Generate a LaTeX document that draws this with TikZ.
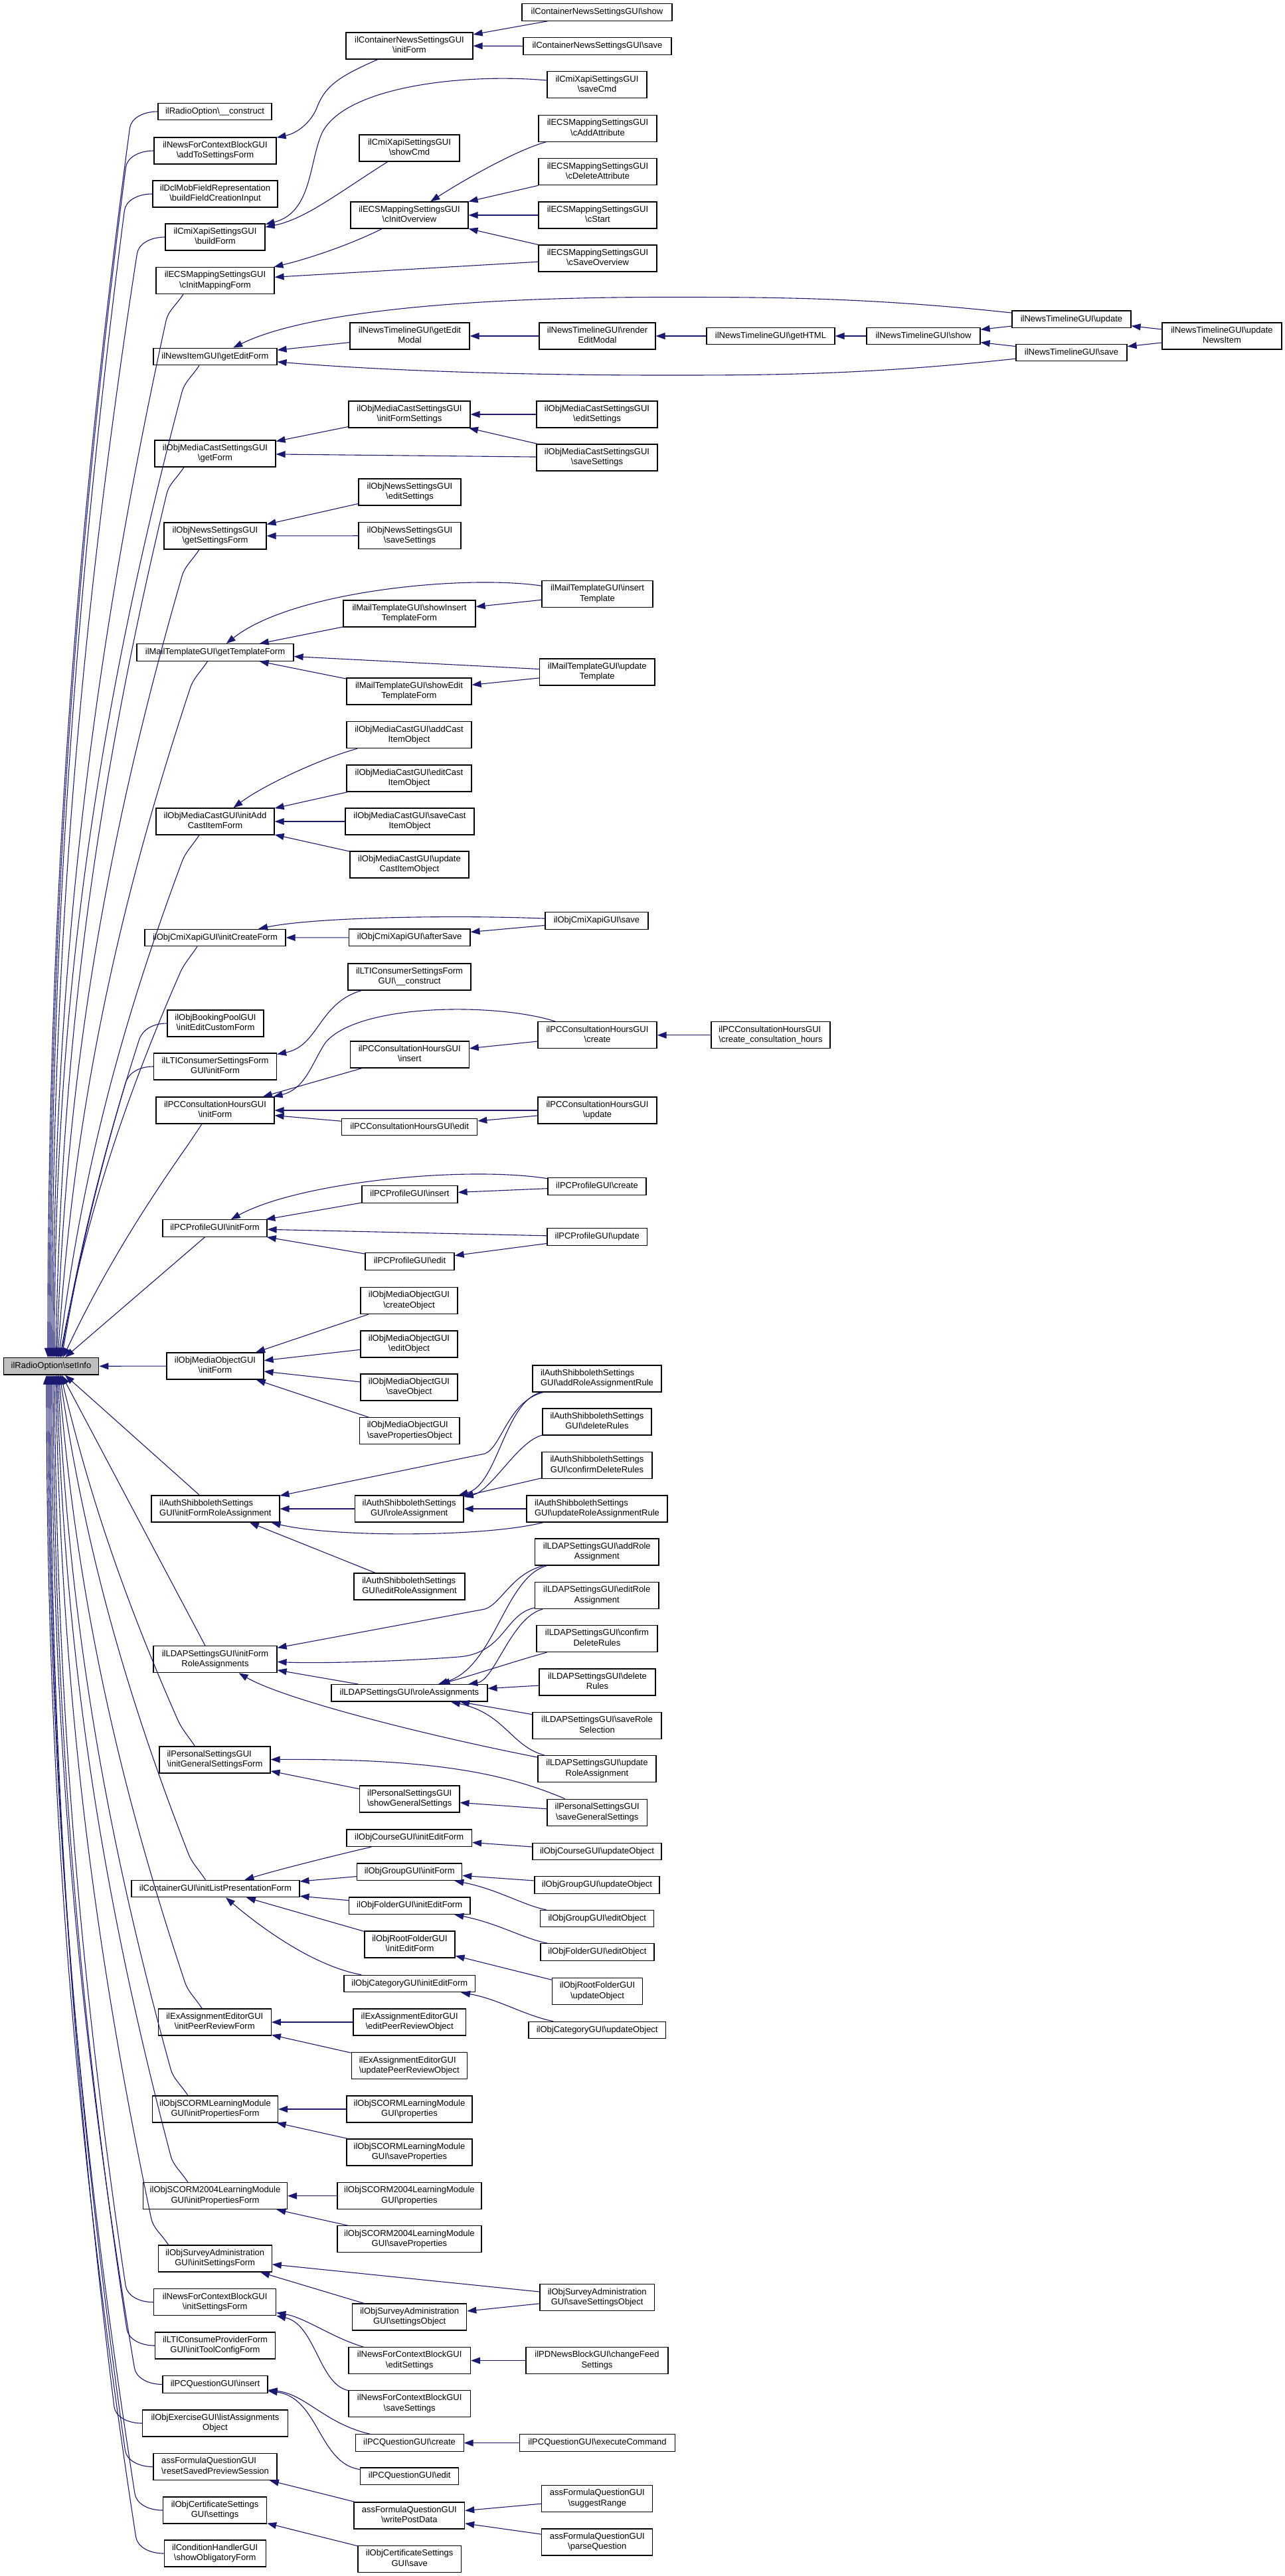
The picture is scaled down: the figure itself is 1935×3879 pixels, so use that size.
\documentclass[tikz,border=0pt]{standalone}
\usepackage{fontspec}
\setmainfont{Liberation Sans}
\usetikzlibrary{arrows.meta,calc}
\definecolor{edgecol}{HTML}{191970}
\definecolor{rootfill}{HTML}{BFBFBF}
\newcommand\bsl{\textbackslash}
\newcommand\twoline[2]{\begin{tabular}{@{}l@{}}#1\\\multicolumn{1}{@{}c@{}}{#2}\end{tabular}}
\newcommand\fanedge[5]{%
\draw[cedge] let \p1=#1, \p2=($#1+#3$), \p3=#4 in
 (\p1) .. controls ($(\p1)+#2$) and ({(\x2)-15*(1+#5)*(((\x3)-(\x2))/abs((\y3)-(\y2)))},{(\y2)-15*(((\y3)-(\y2))/abs((\y3)-(\y2)))}) .. (\p2)
 .. controls ({(\x2)+0.35*(1+#5)*((\x3)-(\x2))},{(\y2)+0.35*((\y3)-(\y2))}) and ({(\x3)-0.35*(1-#5)*((\x3)-(\x2))},{(\y3)-0.35*((\y3)-(\y2))}) .. (\p3);}
\begin{document}
\begin{tikzpicture}[x=1pt,y=-1pt,
  dbox/.style={draw=black,line width=1.2pt,fill=white,inner sep=0pt,font=\fontsize{13pt}{15.5pt}\selectfont,minimum height=25.5pt,text height=9.5pt,text depth=3pt},
  dbox2/.style={draw=black,line width=1.2pt,fill=white,inner sep=0pt,font=\fontsize{13pt}{15.5pt}\selectfont,minimum height=40pt},
  wd/.style={minimum width=#1pt},
  cedge/.style={draw=edgecol,line width=1.1pt,-{Triangle[length=14pt,width=10pt]}}]
\fill[white] (0,0) rectangle (1935,3879);
\useasboundingbox (0,0) rectangle (1935,3879);

% ---------- root ----------
\node[dbox,fill=rootfill,wd=143.6] (root) at (77,2057.3) {ilRadioOption\bsl setInfo};

% ---------- column 1 ----------
\node[dbox,wd=171] (RO) at (323.5,168) {ilRadioOption\bsl\_\_construct};
\node[dbox2,wd=184] (NFCadd) at (324,227) {\twoline{ilNewsForContextBlockGUI}{\bsl addToSettingsForm}};
\node[dbox2,wd=188] (Dcl) at (324,292) {\twoline{ilDclMobFieldRepresentation}{\bsl buildFieldCreationInput}};
\node[dbox2,wd=150] (CmiBuild) at (324,357) {\twoline{ilCmiXapiSettingsGUI}{\bsl buildForm}};
\node[dbox2,wd=178] (ECSmap) at (324,422.5) {\twoline{ilECSMappingSettingsGUI}{\bsl cInitMappingForm}};
\node[dbox,wd=186] (NIedit) at (324,537) {ilNewsItemGUI\bsl getEditForm};
\node[dbox2,wd=182] (MCSget) at (324,683) {\twoline{ilObjMediaCastSettingsGUI}{\bsl getForm}};
\node[dbox2,wd=154] (ONSget) at (324,807) {\twoline{ilObjNewsSettingsGUI}{\bsl getSettingsForm}};
\node[dbox,wd=236] (MTget) at (324,982.5) {ilMailTemplateGUI\bsl getTemplateForm};
\node[dbox2,wd=178] (MCinit) at (324,1237) {\twoline{ilObjMediaCastGUI\bsl initAdd}{CastItemForm}};
\node[dbox,wd=212] (OCXinit) at (324,1412) {ilObjCmiXapiGUI\bsl initCreateForm};
\node[dbox2,wd=145] (OBP) at (324.5,1541) {\twoline{ilObjBookingPoolGUI}{\bsl initEditCustomForm}};
\node[dbox2,wd=185] (LTIinit) at (324,1606) {\twoline{ilLTIConsumerSettingsForm}{GUI\bsl initForm}};
\node[dbox2,wd=178] (PCHinit) at (324,1672) {\twoline{ilPCConsultationHoursGUI}{\bsl initForm}};
\node[dbox,wd=157] (PCPinit) at (323.5,1849.5) {ilPCProfileGUI\bsl initForm};
\node[dbox2,wd=146] (OMOinit) at (324,2057) {\twoline{ilObjMediaObjectGUI}{\bsl initForm}};
\node[dbox2,wd=193] (ASSinit) at (324.4,2272) {\twoline{ilAuthShibbolethSettings}{GUI\bsl initFormRoleAssignment}};
\node[dbox2,wd=186] (LDAPinit) at (324,2498.7) {\twoline{ilLDAPSettingsGUI\bsl initForm}{RoleAssignments}};
\node[dbox2,wd=167] (PSinit) at (323.5,2650) {\twoline{ilPersonalSettingsGUI}{\bsl initGeneralSettingsForm}};
\node[dbox,wd=253] (Cont) at (324.4,2844) {ilContainerGUI\bsl initListPresentationForm};
\node[dbox2,wd=170] (ExA) at (323.3,3045) {\twoline{ilExAssignmentEditorGUI}{\bsl initPeerReviewForm}};
\node[dbox2,wd=189] (SCORM) at (324,3176) {\twoline{ilObjSCORMLearningModule}{GUI\bsl initPropertiesForm}};
\node[dbox2,wd=217] (S2004) at (324,3306.6) {\twoline{ilObjSCORM2004LearningModule}{GUI\bsl initPropertiesForm}};
\node[dbox2,wd=171] (Svy) at (323.7,3401) {\twoline{ilObjSurveyAdministration}{GUI\bsl initSettingsForm}};
\node[dbox2,wd=184] (NFCinit) at (323.7,3466.7) {\twoline{ilNewsForContextBlockGUI}{\bsl initSettingsForm}};
\node[dbox2,wd=181] (LTICP) at (324,3532) {\twoline{ilLTIConsumeProviderForm}{GUI\bsl initToolConfigForm}};
\node[dbox,wd=158] (PCQins) at (324,3590.4) {ilPCQuestionGUI\bsl insert};
\node[dbox2,wd=219] (ObjEx) at (324,3649) {\twoline{ilObjExerciseGUI\bsl listAssignments}{Object}};
\node[dbox2,wd=186] (AFQreset) at (324,3714.5) {\twoline{assFormulaQuestionGUI}{\bsl resetSavedPreviewSession}};
\node[dbox2,wd=156] (CertSet) at (323.6,3780) {\twoline{ilObjCertificateSettings}{GUI\bsl settings}};
\node[dbox2,wd=153] (CondH) at (323.7,3845) {\twoline{ilConditionHandlerGUI}{\bsl showObligatoryForm}};

% ---------- column 2 ----------
\node[dbox2,wd=191] (CNSinit) at (616.5,69) {\twoline{ilContainerNewsSettingsGUI}{\bsl initForm}};
\node[dbox2,wd=151] (CmiShow) at (616.5,223) {\twoline{ilCmiXapiSettingsGUI}{\bsl showCmd}};
\node[dbox2,wd=177] (ECSover) at (616.5,324) {\twoline{ilECSMappingSettingsGUI}{\bsl cInitOverview}};
\node[dbox2,wd=180] (NTmodal) at (617,506) {\twoline{ilNewsTimelineGUI\bsl getEdit}{Modal}};
\node[dbox2,wd=183] (MCSinitFS) at (616.5,624) {\twoline{ilObjMediaCastSettingsGUI}{\bsl initFormSettings}};
\node[dbox2,wd=154] (ONSedit) at (617,741) {\twoline{ilObjNewsSettingsGUI}{\bsl editSettings}};
\node[dbox2,wd=154] (ONSsave) at (617,806.7) {\twoline{ilObjNewsSettingsGUI}{\bsl saveSettings}};
\node[dbox2,wd=199] (MTshowIns) at (616.5,924) {\twoline{ilMailTemplateGUI\bsl showInsert}{TemplateForm}};
\node[dbox2,wd=188] (MTshowEdit) at (616,1041) {\twoline{ilMailTemplateGUI\bsl showEdit}{TemplateForm}};
\node[dbox2,wd=188] (MCadd) at (616,1106.7) {\twoline{ilObjMediaCastGUI\bsl addCast}{ItemObject}};
\node[dbox2,wd=188] (MCedit) at (616,1172) {\twoline{ilObjMediaCastGUI\bsl editCast}{ItemObject}};
\node[dbox2,wd=194] (MCsave) at (617,1237) {\twoline{ilObjMediaCastGUI\bsl saveCast}{ItemObject}};
\node[dbox2,wd=179] (MCupd) at (616.5,1302) {\twoline{ilObjMediaCastGUI\bsl update}{CastItemObject}};
\node[dbox,wd=182.5] (OCXafter) at (616.7,1411.7) {ilObjCmiXapiGUI\bsl afterSave};
\node[dbox2,wd=185] (LTIcons) at (616.5,1471) {\twoline{ilLTIConsumerSettingsForm}{GUI\bsl\_\_construct}};
\node[dbox2,wd=179] (PCHins) at (616.7,1588) {\twoline{ilPCConsultationHoursGUI}{\bsl insert}};
\node[dbox,wd=204] (PCHedit) at (616.7,1697) {ilPCConsultationHoursGUI\bsl edit};
\node[dbox,wd=144] (PCPins) at (617,1798.5) {ilPCProfileGUI\bsl insert};
\node[dbox,wd=134] (PCPedit) at (617,1899.5) {ilPCProfileGUI\bsl edit};
\node[dbox2,wd=146] (OMOcreate) at (616,1958.5) {\twoline{ilObjMediaObjectGUI}{\bsl createObject}};
\node[dbox2,wd=146] (OMOedit) at (616,2024) {\twoline{ilObjMediaObjectGUI}{\bsl editObject}};
\node[dbox2,wd=146] (OMOsave) at (616,2089) {\twoline{ilObjMediaObjectGUI}{\bsl saveObject}};
\node[dbox2,wd=150.5] (OMOsaveProp) at (616.7,2154.6) {\twoline{ilObjMediaObjectGUI}{\bsl savePropertiesObject}};
\node[dbox2,wd=163.6] (ASSrole) at (616.2,2272) {\twoline{ilAuthShibbolethSettings}{GUI\bsl roleAssignment}};
\node[dbox2,wd=167] (ASSeditRA) at (616.5,2389) {\twoline{ilAuthShibbolethSettings}{GUI\bsl editRoleAssignment}};
\node[dbox,wd=235] (LDAProle) at (616.4,2549.3) {ilLDAPSettingsGUI\bsl roleAssignments};
\node[dbox2,wd=150.5] (PSshow) at (616.7,2709) {\twoline{ilPersonalSettingsGUI}{\bsl showGeneralSettings}};
\node[dbox,wd=188.5] (CrsInit) at (616.2,2767.7) {ilObjCourseGUI\bsl initEditForm};
\node[dbox,wd=158] (GrpInit) at (616.7,2818.7) {ilObjGroupGUI\bsl initForm};
\node[dbox,wd=182.5] (FldInit) at (616.7,2869.7) {ilObjFolderGUI\bsl initEditForm};
\node[dbox2,wd=136] (RootInit) at (617,2928) {\twoline{ilObjRootFolderGUI}{\bsl initEditForm}};
\node[dbox,wd=197.6] (CatInit) at (616.8,2987) {ilObjCategoryGUI\bsl initEditForm};
\node[dbox2,wd=169.5] (ExAedit) at (616.7,3045) {\twoline{ilExAssignmentEditorGUI}{\bsl editPeerReviewObject}};
\node[dbox2,wd=174] (ExAupd) at (616.3,3110.8) {\twoline{ilExAssignmentEditorGUI}{\bsl updatePeerReviewObject}};
\node[dbox2,wd=189] (SCORMprop) at (616.5,3176) {\twoline{ilObjSCORMLearningModule}{GUI\bsl properties}};
\node[dbox2,wd=189] (SCORMsave) at (616.5,3241) {\twoline{ilObjSCORMLearningModule}{GUI\bsl saveProperties}};
\node[dbox2,wd=217] (S2004prop) at (616.4,3306.6) {\twoline{ilObjSCORM2004LearningModule}{GUI\bsl properties}};
\node[dbox2,wd=217] (S2004save) at (616.4,3371.8) {\twoline{ilObjSCORM2004LearningModule}{GUI\bsl saveProperties}};
\node[dbox2,wd=172] (SvySettings) at (616.7,3489) {\twoline{ilObjSurveyAdministration}{GUI\bsl settingsObject}};
\node[dbox2,wd=183.5] (NFCedit) at (616.7,3554.6) {\twoline{ilNewsForContextBlockGUI}{\bsl editSettings}};
\node[dbox2,wd=183.5] (NFCsave) at (616.7,3619.6) {\twoline{ilNewsForContextBlockGUI}{\bsl saveSettings}};
\node[dbox,wd=163] (PCQcreate) at (616.6,3678.6) {ilPCQuestionGUI\bsl create};
\node[dbox,wd=148] (PCQedit) at (616.7,3728.7) {ilPCQuestionGUI\bsl edit};
\node[dbox2,wd=166.6] (AFQwrite) at (616.3,3788) {\twoline{assFormulaQuestionGUI}{\bsl writePostData}};
\node[dbox2,wd=155.5] (CertSave) at (616.7,3853.3) {\twoline{ilObjCertificateSettings}{GUI\bsl save}};

% ---------- column 3 ----------
\node[dbox,wd=226] (CNSshow) at (899,18.5) {ilContainerNewsSettingsGUI\bsl show};
\node[dbox,wd=223] (CNSsave) at (899.5,69.5) {ilContainerNewsSettingsGUI\bsl save};
\node[dbox2,wd=150] (CmiSave) at (899,127.7) {\twoline{ilCmiXapiSettingsGUI}{\bsl saveCmd}};
\node[dbox2,wd=178] (ECSadd) at (900,193.4) {\twoline{ilECSMappingSettingsGUI}{\bsl cAddAttribute}};
\node[dbox2,wd=178] (ECSdel) at (900,258.7) {\twoline{ilECSMappingSettingsGUI}{\bsl cDeleteAttribute}};
\node[dbox2,wd=178] (ECSstart) at (900,324) {\twoline{ilECSMappingSettingsGUI}{\bsl cStart}};
\node[dbox2,wd=178] (ECSsave) at (900,389) {\twoline{ilECSMappingSettingsGUI}{\bsl cSaveOverview}};
\node[dbox2,wd=175] (NTrender) at (899.5,506) {\twoline{ilNewsTimelineGUI\bsl render}{EditModal}};
\node[dbox2,wd=182] (MCSedit) at (899,624) {\twoline{ilObjMediaCastSettingsGUI}{\bsl editSettings}};
\node[dbox2,wd=182] (MCSsave) at (899,689) {\twoline{ilObjMediaCastSettingsGUI}{\bsl saveSettings}};
\node[dbox2,wd=167] (MTinsert) at (899.5,894.6) {\twoline{ilMailTemplateGUI\bsl insert}{Template}};
\node[dbox2,wd=173.5] (MTupdate) at (899.3,1012) {\twoline{ilMailTemplateGUI\bsl update}{Template}};
\node[dbox,wd=155] (OCXsave) at (898.5,1386.4) {ilObjCmiXapiGUI\bsl save};
\node[dbox2,wd=179] (PCHcreate) at (899.5,1558.7) {\twoline{ilPCConsultationHoursGUI}{\bsl create}};
\node[dbox2,wd=179] (PCHupdate) at (899.5,1672) {\twoline{ilPCConsultationHoursGUI}{\bsl update}};
\node[dbox,wd=148] (PCPcreate) at (899,1786.5) {ilPCProfileGUI\bsl create};
\node[dbox,wd=150.5] (PCPupdate) at (899.2,1862.5) {ilPCProfileGUI\bsl update};
\node[dbox2,wd=194] (ASSadd) at (899,2076) {\twoline{ilAuthShibbolethSettings}{GUI\bsl addRoleAssignmentRule}};
\node[dbox2,wd=164] (ASSdel) at (899,2141) {\twoline{ilAuthShibbolethSettings}{GUI\bsl deleteRules}};
\node[dbox2,wd=166] (ASSconf) at (899,2206.3) {\twoline{ilAuthShibbolethSettings}{GUI\bsl confirmDeleteRules}};
\node[dbox2,wd=212] (ASSupd) at (899,2272) {\twoline{ilAuthShibbolethSettings}{GUI\bsl updateRoleAssignmentRule}};
\node[dbox2,wd=186.4] (LDAPadd) at (898.8,2337) {\twoline{ilLDAPSettingsGUI\bsl addRole}{Assignment}};
\node[dbox2,wd=186.4] (LDAPedit) at (898.8,2402.5) {\twoline{ilLDAPSettingsGUI\bsl editRole}{Assignment}};
\node[dbox2,wd=182] (LDAPconf) at (899,2467.6) {\twoline{ilLDAPSettingsGUI\bsl confirm}{DeleteRules}};
\node[dbox2,wd=175] (LDAPdel) at (899.5,2533) {\twoline{ilLDAPSettingsGUI\bsl delete}{Rules}};
\node[dbox2,wd=194] (LDAPsaveSel) at (899,2598.6) {\twoline{ilLDAPSettingsGUI\bsl saveRole}{Selection}};
\node[dbox2,wd=178] (LDAPupd) at (899,2663.6) {\twoline{ilLDAPSettingsGUI\bsl update}{RoleAssignment}};
\node[dbox2,wd=150.5] (PSsave) at (899.2,2729.2) {\twoline{ilPersonalSettingsGUI}{\bsl saveGeneralSettings}};
\node[dbox,wd=194] (CrsUpd) at (899,2788) {ilObjCourseGUI\bsl updateObject};
\node[dbox,wd=188] (GrpUpd) at (899,2838.6) {ilObjGroupGUI\bsl updateObject};
\node[dbox,wd=171] (GrpEdit) at (899.2,2889) {ilObjGroupGUI\bsl editObject};
\node[dbox,wd=171] (FldEdit) at (899.5,2939.5) {ilObjFolderGUI\bsl editObject};
\node[dbox2,wd=135.7] (RootUpd) at (899.5,2998.4) {\twoline{ilObjRootFolderGUI}{\bsl updateObject}};
\node[dbox,wd=206.5] (CatUpd) at (899.2,3057) {ilObjCategoryGUI\bsl updateObject};
\node[dbox2,wd=172.3] (SvySave) at (899.2,3459.8) {\twoline{ilObjSurveyAdministration}{GUI\bsl saveSettingsObject}};
\node[dbox2,wd=214] (PDNews) at (899,3554.6) {\twoline{ilPDNewsBlockGUI\bsl changeFeed}{Settings}};
\node[dbox,wd=233.6] (PCQexec) at (899.5,3678.6) {ilPCQuestionGUI\bsl executeCommand};
\node[dbox2,wd=167] (AFQsuggest) at (899.3,3762.6) {\twoline{assFormulaQuestionGUI}{\bsl suggestRange}};
\node[dbox2,wd=167] (AFQparse) at (899.3,3828) {\twoline{assFormulaQuestionGUI}{\bsl parseQuestion}};

% ---------- columns 4-7 ----------
\node[dbox2,wd=179] (PCHcch) at (1160.5,1558.7) {\twoline{ilPCConsultationHoursGUI}{\bsl create\_consultation\_hours}};
\node[dbox,wd=193] (NTgetHTML) at (1160.5,506) {ilNewsTimelineGUI\bsl getHTML};
\node[dbox,wd=171] (NTshow) at (1390.5,506) {ilNewsTimelineGUI\bsl show};
\node[dbox,wd=179] (NTupdate) at (1613.5,480.8) {ilNewsTimelineGUI\bsl update};
\node[dbox,wd=167] (NTsave) at (1613.5,531) {ilNewsTimelineGUI\bsl save};
\node[dbox2,wd=180] (NTupdNI) at (1840,506) {\twoline{ilNewsTimelineGUI\bsl update}{NewsItem}};

% ---------- fan into root (from above) ----------
\fanedge{(RO.west)}{(-22,0)}{(-42,25)}{($(root.north)+(-5,0)$)}{1}
\fanedge{(NFCadd.west)}{(-22,0)}{(-42,25)}{($(root.north)+(-3,0)$)}{1}
\fanedge{(Dcl.west)}{(-22,0)}{(-42,25)}{($(root.north)+(-1,0)$)}{1}
\fanedge{(CmiBuild.west)}{(-22,0)}{(-42,25)}{($(root.north)+(1,0)$)}{1}
\fanedge{($(ECSmap.south)+(-48,0)$)}{(-12,18)}{(-26,40)}{($(root.north)+(3,0)$)}{1}
\fanedge{($(NIedit.south)+(-24,0)$)}{(-12,18)}{(-26,40)}{($(root.north)+(5,0)$)}{1}
\fanedge{($(MCSget.south)+(-47,0)$)}{(-12,18)}{(-26,40)}{($(root.north)+(7,0)$)}{0.87}
\fanedge{($(ONSget.south)+(-24,0)$)}{(-12,18)}{(-26,40)}{($(root.north)+(8.5,0)$)}{0.8}
\fanedge{($(MTget.south)+(-11.5,0)$)}{(-12,18)}{(-26,40)}{($(root.north)+(10,0)$)}{0.67}
\fanedge{($(MCinit.south)+(-24,0)$)}{(-12,18)}{(-26,40)}{($(root.north)+(11.5,0)$)}{0.5}
\fanedge{($(OCXinit.south)+(-27,0)$)}{(-12,18)}{(-26,40)}{($(root.north)+(13,0)$)}{0.4}
\fanedge{(OBP.west)}{(-22,0)}{(-42,25)}{($(root.north)+(14.5,0)$)}{0.3}
\fanedge{(LTIinit.west)}{(-22,0)}{(-42,25)}{($(root.north)+(16,0)$)}{0.27}
\fanedge{($(PCHinit.south)+(-20,0)$)}{(-10,15)}{(-20,30)}{($(root.north)+(18,0)$)}{0.2}
\draw[cedge] ($(PCPinit.south)+(-15,0)$) -- ($(root.north)+(21,0)$);
\draw[cedge] (OMOinit) -- (root);

% ---------- fan into root (from below) ----------
\draw[cedge] ($(ASSinit.north)+(-24,0)$) -- ($(root.south)+(21,0)$);
\draw[cedge] ($(LDAPinit.north)+(-15,0)$) -- ($(root.south)+(16,0)$);
\fanedge{($(PSinit.north)+(-30,0)$)}{(-12,-18)}{(-26,-40)}{($(root.south)+(14.5,0)$)}{0.3}
\fanedge{($(Cont.north)+(-15,0)$)}{(-12,-18)}{(-26,-40)}{($(root.south)+(13,0)$)}{0.45}
\fanedge{($(ExA.north)+(-19,0)$)}{(-12,-18)}{(-26,-40)}{($(root.south)+(11.5,0)$)}{0.6}
\fanedge{($(SCORM.north)+(-41,0)$)}{(-12,-18)}{(-26,-40)}{($(root.south)+(10,0)$)}{0.7}
\fanedge{($(S2004.north)+(-41,0)$)}{(-12,-18)}{(-26,-40)}{($(root.south)+(8.5,0)$)}{0.8}
\fanedge{($(Svy.north)+(-70,0)$)}{(-12,-18)}{(-26,-40)}{($(root.south)+(7,0)$)}{0.85}
\fanedge{(NFCinit.west)}{(-22,0)}{(-42,-25)}{($(root.south)+(5,0)$)}{0.9}
\fanedge{(LTICP.west)}{(-22,0)}{(-42,-25)}{($(root.south)+(3,0)$)}{0.95}
\fanedge{(PCQins.west)}{(-22,0)}{(-42,-25)}{($(root.south)+(1,0)$)}{1}
\fanedge{(ObjEx.west)}{(-22,0)}{(-42,-25)}{($(root.south)+(-1,0)$)}{1}
\fanedge{(AFQreset.west)}{(-22,0)}{(-42,-25)}{($(root.south)+(-3,0)$)}{1}
\fanedge{(CertSet.west)}{(-22,0)}{(-42,-25)}{($(root.south)+(-5,0)$)}{1}
\fanedge{(CondH.west)}{(-22,0)}{(-42,-25)}{($(root.south)+(-7,0)$)}{1}

% ---------- other edges ----------
\draw[cedge] (CNSshow) -- (CNSinit);
\draw[cedge] (CNSsave) -- (CNSinit);
\draw[cedge] (CNSinit) .. controls (510,115) and (490,130) .. (478,160) .. controls (470,182) and (450,200) .. (NFCadd);
\draw[cedge] (CmiSave) .. controls (700,110) and (520,130) .. (485,200) .. controls (465,245) and (470,320) .. (CmiBuild);
\draw[cedge] (CmiShow) .. controls (510,290) and (460,330) .. (CmiBuild);
\draw[cedge] (ECSover) .. controls (520,372) and (455,392) .. (ECSmap);
\draw[cedge] (ECSsave) -- (ECSmap);
\draw[cedge] (ECSadd) .. controls (780,225) and (700,270) .. (ECSover);
\draw[cedge] (ECSdel) -- (ECSover);
\draw[cedge] (ECSstart) -- (ECSover);
\draw[cedge] (ECSsave) -- (ECSover);

\draw[cedge] (NTmodal) -- (NIedit);
\draw[cedge] (NTrender) -- (NTmodal);
\draw[cedge] (NTgetHTML) -- (NTrender);
\draw[cedge] (NTshow) -- (NTgetHTML);
\draw[cedge] (NTupdate) -- (NTshow);
\draw[cedge] (NTsave) -- (NTshow);
\draw[cedge] (NTupdNI) -- (NTupdate);
\draw[cedge] (NTupdNI) -- (NTsave);
\draw[cedge] (NTupdate) .. controls (1300,447) and (1150,447.5) .. (1000,447.5) .. controls (700,447.5) and (460,470) .. (NIedit);
\draw[cedge] (NTsave) .. controls (1300,565) and (1150,565) .. (1000,565) .. controls (750,565) and (550,556) .. (NIedit);

\draw[cedge] (MCSinitFS) -- (MCSget);
\draw[cedge] (MCSedit) -- (MCSinitFS);
\draw[cedge] (MCSsave) -- (MCSinitFS);
\draw[cedge] (MCSsave) -- (MCSget);
\draw[cedge] (ONSedit) -- (ONSget);
\draw[cedge] (ONSsave) -- (ONSget);

\draw[cedge] (MTinsert) .. controls (700,865) and (440,890) .. (MTget);
\draw[cedge] (MTinsert) -- (MTshowIns);
\draw[cedge] (MTshowIns) -- (MTget);
\draw[cedge] (MTupdate) -- (MTget);
\draw[cedge] (MTupdate) -- (MTshowEdit);
\draw[cedge] (MTshowEdit) -- (MTget);

\draw[cedge] (MCadd) .. controls (490,1140) and (400,1180) .. (MCinit);
\draw[cedge] (MCedit) -- (MCinit);
\draw[cedge] (MCsave) -- (MCinit);
\draw[cedge] (MCupd) -- (MCinit);

\draw[cedge] (OCXsave) .. controls (700,1378) and (480,1380) .. (OCXinit);
\draw[cedge] (OCXafter) -- (OCXinit);
\draw[cedge] (OCXsave) -- (OCXafter);

\draw[cedge] (LTIcons) .. controls (480,1510) and (480,1575) .. (LTIinit);

\draw[cedge] (PCHcreate) .. controls (750,1510) and (540,1510) .. (490,1570) .. controls (470,1600) and (460,1640) .. (PCHinit);
\draw[cedge] (PCHcreate) -- (PCHins);
\draw[cedge] (PCHins) -- (PCHinit);
\draw[cedge] (PCHupdate) -- (PCHinit);
\draw[cedge] (PCHupdate) -- (PCHedit);
\draw[cedge] (PCHedit) -- (PCHinit);
\draw[cedge] (PCHcch) -- (PCHcreate);

\draw[cedge] (PCPcreate) .. controls (700,1755) and (450,1780) .. (PCPinit);
\draw[cedge] (PCPcreate) -- (PCPins);
\draw[cedge] (PCPins) -- (PCPinit);
\draw[cedge] (PCPupdate) -- (PCPinit);
\draw[cedge] (PCPupdate) -- (PCPedit);
\draw[cedge] (PCPedit) -- (PCPinit);

\draw[cedge] (OMOcreate) -- (OMOinit);
\draw[cedge] (OMOedit) -- (OMOinit);
\draw[cedge] (OMOsave) -- (OMOinit);
\draw[cedge] (OMOsaveProp) -- (OMOinit);

\draw[cedge] (ASSrole) -- (ASSinit);
\draw[cedge] (ASSupd) -- (ASSrole);
\draw[cedge] (ASSconf) -- (ASSrole);
\draw[cedge] (ASSdel) .. controls (780,2170) and (740,2245) .. (ASSrole);
\draw[cedge] (ASSadd) .. controls (760,2110) and (750,2235) .. (ASSrole);
\draw[cedge] (ASSadd) .. controls (765,2110) and (755,2180) .. (730,2189) -- (ASSinit);
\draw[cedge] (ASSupd) .. controls (730,2315) and (500,2315) .. (ASSinit);
\draw[cedge] (ASSeditRA) -- (ASSinit);

\draw[cedge] (LDAProle) -- (LDAPinit);
\draw[cedge] (LDAPadd) .. controls (770,2370) and (755,2415) .. (730,2423) -- (LDAPinit);
\draw[cedge] (LDAPadd) .. controls (760,2375) and (745,2510) .. (LDAProle);
\draw[cedge] (LDAPedit) .. controls (760,2430) and (760,2490) .. (690,2495) .. controls (600,2502) and (480,2505) .. (LDAPinit);
\draw[cedge] (LDAPedit) .. controls (770,2435) and (745,2530) .. (LDAProle);
\draw[cedge] (LDAPconf) .. controls (780,2500) and (720,2520) .. (LDAProle);
\draw[cedge] (LDAPdel) -- (LDAProle);
\draw[cedge] (LDAPsaveSel) -- (LDAProle);
\draw[cedge] (LDAPupd) .. controls (770,2630) and (760,2580) .. (LDAProle);
\draw[cedge] (LDAPupd) .. controls (650,2615) and (430,2560) .. (LDAPinit);

\draw[cedge] (PSshow) -- (PSinit);
\draw[cedge] (PSsave) .. controls (760,2670) and (650,2648) .. (PSinit);
\draw[cedge] (PSsave) -- (PSshow);

\draw[cedge] (CrsInit) .. controls (500,2795) and (420,2815) .. (Cont);
\draw[cedge] (GrpInit) -- (Cont);
\draw[cedge] (FldInit) -- (Cont);
\draw[cedge] (RootInit) -- (Cont);
\draw[cedge] (CatInit) .. controls (470,2960) and (390,2900) .. (Cont);
\draw[cedge] (CrsUpd) -- (CrsInit);
\draw[cedge] (GrpUpd) -- (GrpInit);
\draw[cedge] (GrpEdit) .. controls (790,2870) and (750,2845) .. (GrpInit);
\draw[cedge] (FldEdit) .. controls (790,2920) and (750,2896) .. (FldInit);
\draw[cedge] (RootUpd) -- (RootInit);
\draw[cedge] (CatUpd) .. controls (790,3035) and (750,3010) .. (CatInit);

\draw[cedge] (ExAedit) -- (ExA);
\draw[cedge] (ExAupd) -- (ExA);
\draw[cedge] (SCORMprop) -- (SCORM);
\draw[cedge] (SCORMsave) -- (SCORM);
\draw[cedge] (S2004prop) -- (S2004);
\draw[cedge] (S2004save) -- (S2004);

\draw[cedge] (SvySave) -- (Svy);
\draw[cedge] (SvySettings) -- (Svy);
\draw[cedge] (SvySave) -- (SvySettings);

\draw[cedge] (NFCedit) .. controls (500,3520) and (460,3490) .. (NFCinit);
\draw[cedge] (NFCsave) .. controls (480,3590) and (475,3500) .. (NFCinit);
\draw[cedge] (PDNews) -- (NFCedit);

\draw[cedge] (PCQcreate) .. controls (490,3650) and (460,3605) .. (PCQins);
\draw[cedge] (PCQedit) .. controls (480,3710) and (480,3610) .. (PCQins);
\draw[cedge] (PCQexec) -- (PCQcreate);

\draw[cedge] (AFQwrite) -- (AFQreset);
\draw[cedge] (AFQsuggest) -- (AFQwrite);
\draw[cedge] (AFQparse) -- (AFQwrite);
\draw[cedge] (CertSave) -- (CertSet);
\end{tikzpicture}
\end{document}
